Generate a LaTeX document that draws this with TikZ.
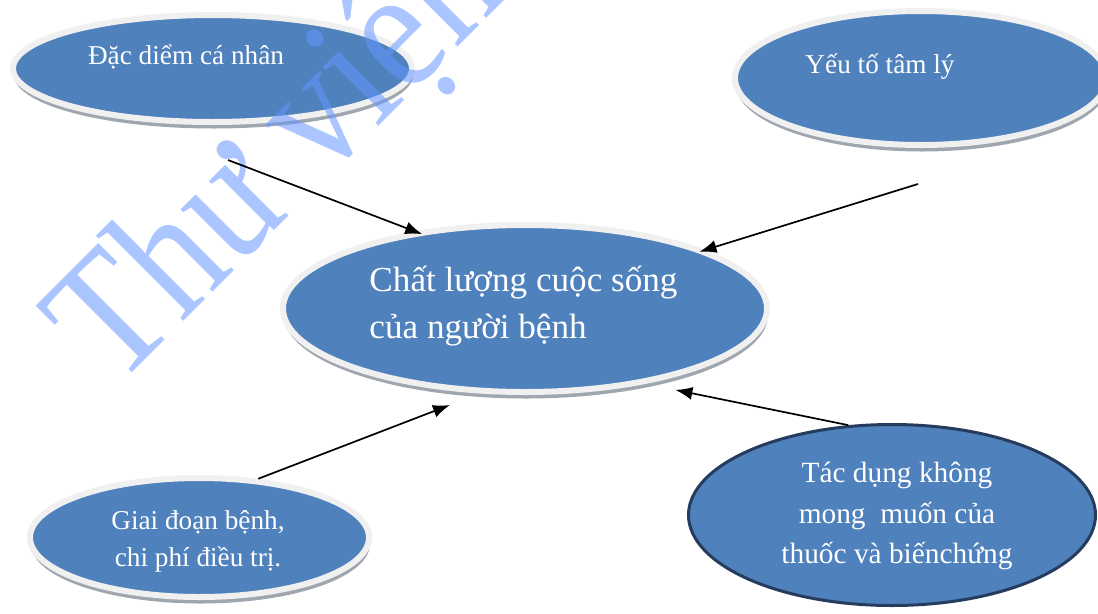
\documentclass[tikz,border=0pt]{standalone}
\usepackage{fontspec}
\setmainfont{Liberation Serif}
\usetikzlibrary{shapes.geometric,arrows.meta,shadows}

\definecolor{bubbleblue}{RGB}{79,129,189}
\definecolor{rimgray}{RGB}{240,240,240}
\definecolor{shadowgray}{RGB}{160,166,176}
\definecolor{edgenavy}{RGB}{38,60,95}
\definecolor{markblue}{RGB}{100,150,255}

\tikzset{
    % Blue bubble with a light rim and a thin shadow below
    bubble/.style={ellipse, fill=bubbleblue, draw=rimgray, line width=0.12cm, inner sep=0pt,
        drop shadow={shadow xshift=0.02cm, shadow yshift=-0.13cm, fill=shadowgray, opacity=1}},
    % Blue bubble with a dark outline instead of the rim
    framed/.style={ellipse, fill=bubbleblue, draw=edgenavy, line width=0.06cm, inner sep=0pt},
    bubbletext/.style={text=white, align=center, inner sep=0pt,
        font=\fontsize{15.5}{21}\selectfont},
    link/.style={-{Latex[length=0.34cm,width=0.26cm]}, line width=0.034cm, black}
}

\begin{document}
\begin{tikzpicture}
    \useasboundingbox (0,0) rectangle (21.96,-12.26);

    % The five bubbles
    \node[bubble, minimum width=7.98cm, minimum height=2.14cm] (trait) at (4.25,-1.37) {};
    \node[bubble, minimum width=7.44cm, minimum height=2.68cm] (psych) at (18.42,-1.56) {};
    \node[bubble, minimum width=9.68cm, minimum height=3.34cm] (quality) at (10.5,-6.17) {};
    \node[bubble, minimum width=6.78cm, minimum height=2.38cm] (stage) at (3.99,-10.75) {};
    \node[framed, minimum width=8.14cm, minimum height=3.62cm] (effect) at (17.84,-10.3) {};

    % Texts in the bubbles
    \node[bubbletext] (trait text) at (3.72,-1.14) {Đặc diểm cá nhân};
    \node[bubbletext] (psych text) at (17.6,-1.34) {Yếu tố tâm lý};
    \node[bubbletext, align=left, font=\fontsize{20}{26.7}\selectfont] (quality text) at (10.47,-6.12)
        {Chất lượng cuộc sống\\của người bệnh};
    \node[bubbletext] (stage text) at (3.96,-10.82) {Giai đoạn bệnh,\\chi phí điều trị.};
    \node[bubbletext, font=\fontsize{16.7}{22.8}\selectfont] (effect text) at (17.94,-10.32)
        {Tác dụng không\\mong~ muốn của\\thuốc và biếnchứng};

    % Watermark
    \begin{scope}
        \clip (0,0) rectangle (21.96,-12.26);
        \node[rotate=45, anchor=base west, inner sep=0pt, text=markblue, text opacity=0.55,
            font=\fontsize{100}{100}\selectfont] (mark) at (2.3,-7.8) {\scalebox{0.875}[1]{Thư viện}};
    \end{scope}

    % Arrows into the centre bubble
    \coordinate (from trait) at (4.56,-3.2);
    \coordinate (from psych) at (18.36,-3.68);
    \draw[link, shorten >=-0.16cm] (from trait) -- (quality.145);
    \draw[link, shorten >=-0.12cm] (from psych) -- (quality.18);
    \draw[link, shorten >=0.64cm] (stage.45) -- (quality.242);
    \draw[link, shorten >=0.61cm] (effect.116) -- (quality.-32);
\end{tikzpicture}
\end{document}
